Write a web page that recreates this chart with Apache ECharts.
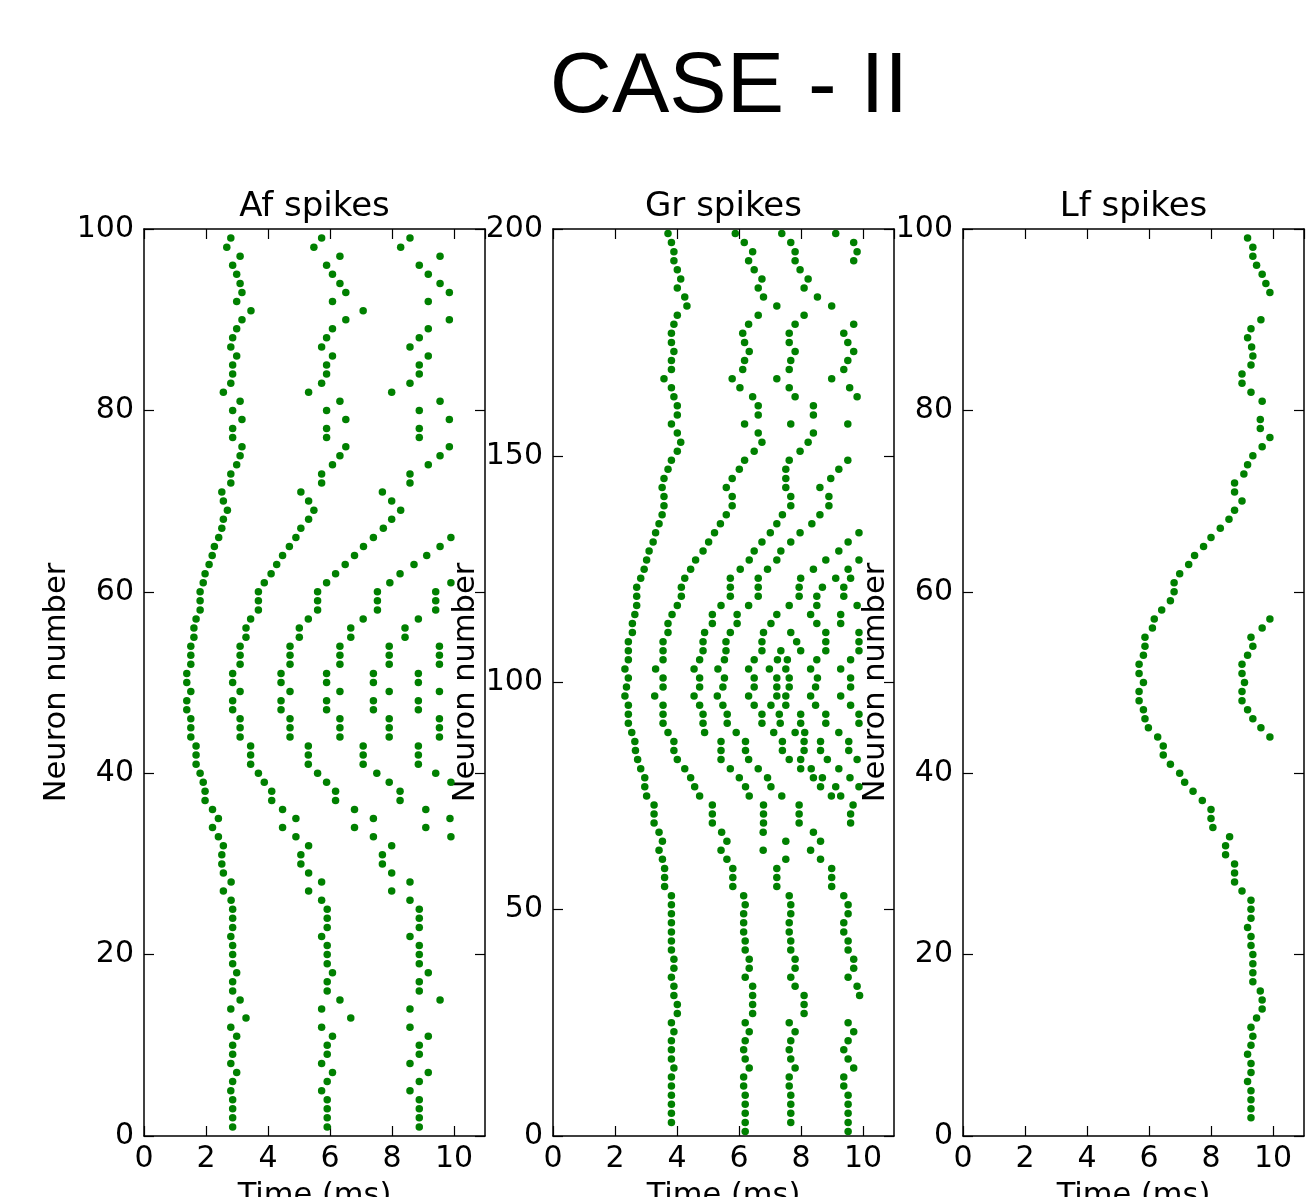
<!DOCTYPE html>
<html>
<head>
<meta charset="utf-8">
<script src="https://cdn.jsdelivr.net/npm/echarts@6/dist/echarts.min.js"></script>
<style>
html,body{margin:0;padding:0;background:#fff;}
#chart{width:1306px;height:1197px;}
</style>
</head>
<body>
<div id="chart"></div>
<script>
// ---------------- DATA ----------------
var mainTitle = 'CASE - II';
var panelTitles = ['Af spikes', 'Gr spikes', 'Lf spikes'];
var xTicks = [0, 2, 4, 6, 8, 10];
var yMaxes = [100, 200, 100];
var yIntervals = [20, 50, 20];

// Af: spike k of neuron n (index n-1), neurons 1..99
var afSpike1 = [2.86,2.86,2.86,2.86,2.80,2.86,2.99,2.80,2.86,2.86,
 2.99,2.80,3.29,2.80,3.10,2.86,2.86,2.99,2.86,2.86,
 2.86,2.80,2.86,2.86,2.86,2.81,2.56,2.81,2.56,2.51,
 2.51,2.56,2.40,2.21,2.40,2.21,1.97,1.97,1.91,1.81,
 1.68,1.68,1.68,1.51,1.51,1.51,1.38,1.38,1.51,1.38,
 1.38,1.51,1.51,1.51,1.61,1.61,1.68,1.81,1.81,1.81,
 1.91,1.97,2.10,2.20,2.27,2.41,2.51,2.56,2.69,2.56,
 2.51,2.80,2.80,2.99,3.10,3.16,2.86,2.86,3.16,2.86,
 3.10,2.56,2.80,2.86,2.86,2.99,2.80,2.86,2.99,3.16,
 3.45,2.99,3.16,3.10,2.99,2.86,3.10,2.67,2.80];
var afSpike2 = [5.91,5.91,5.91,5.91,5.73,5.91,6.08,5.73,5.91,5.91,
 6.08,5.73,6.67,5.73,6.32,5.91,5.91,6.08,5.91,5.91,
 5.91,5.73,5.91,5.91,5.91,5.73,5.31,5.73,5.31,5.06,
 5.06,5.31,4.90,4.47,4.90,4.47,4.12,4.12,3.88,3.69,
 3.44,3.44,3.44,3.10,3.10,3.10,2.86,2.86,3.10,2.86,
 2.86,3.10,3.10,3.10,3.29,3.29,3.44,3.69,3.69,3.69,
 3.88,4.10,4.28,4.47,4.69,4.90,5.06,5.31,5.48,5.31,
 5.06,5.73,5.73,6.08,6.32,6.51,5.89,5.89,6.51,5.89,
 6.32,5.31,5.73,5.89,5.89,6.08,5.73,5.89,6.08,6.51,
 7.07,6.08,6.51,6.32,6.08,5.89,6.32,5.48,5.73];
var afSpike3 = [8.88,8.88,8.88,8.88,8.58,8.88,9.17,8.58,8.88,8.88,
 9.17,8.58,null,8.58,9.55,8.88,8.88,9.17,8.88,8.88,
 8.88,8.58,8.88,8.88,8.88,8.58,7.99,8.58,7.99,7.69,
 7.69,7.99,7.40,6.79,7.40,6.79,6.18,6.18,5.89,5.60,
 5.30,5.30,5.30,4.71,4.71,4.71,4.42,4.42,4.71,4.42,
 4.42,4.71,4.71,4.71,5.01,5.01,5.30,5.60,5.60,5.60,
 5.89,6.18,6.49,6.79,7.08,7.40,7.72,7.99,8.28,7.99,
 7.69,8.58,8.58,9.17,9.55,9.85,8.88,8.88,9.85,8.88,
 9.55,7.99,8.58,8.88,8.88,9.17,8.58,8.88,9.17,9.85,
 null,9.17,9.85,9.55,9.17,8.88,9.55,8.28,8.58];
// later spikes, first neuron given separately
var afSpike4From = 33;
var afSpike4 = [9.90,9.09,9.87,9.09,8.26,8.26,7.91,7.51,7.07,7.07,7.07,6.32,6.32,6.32,5.89,5.89,6.32,5.89,5.89,6.32,6.32,6.32,6.67,6.67,7.07,7.53,7.53,7.53,7.93,8.26,8.71,9.12,9.55,9.90];
var afSpike5From = 39;
var afSpike5 = [9.90,9.41,8.85,8.85,8.85,7.91,7.91,7.91,7.40,7.40,7.91,7.40,7.40,7.91,7.91,7.91,8.42,8.42,8.85,9.41,9.41,9.41,9.90];
var afSpike6From = 44;
var afSpike6 = [9.53,9.53,9.53,8.85,8.85,9.53,8.85,8.85,9.53,9.53,9.53];

// Gr: spike times of neuron 2i+1 (i = row index), neurons 1..199
var grRows = [
 [6.20,9.52],
 [3.82,6.20,7.67,9.52],[3.82,6.20,7.67,9.52],[3.82,6.20,7.67,9.52],[3.82,6.20,7.67,9.52],
 [3.82,6.15,7.62,9.38],[3.82,6.15,7.62,9.38],[3.90,6.33,7.81,9.70],[3.82,6.20,7.67,9.52],
 [3.82,6.15,7.62,9.38],[3.82,6.20,7.67,9.52],[3.90,6.33,7.81,9.70],[3.82,6.20,7.62,9.52],
 [4.01,6.44,8.10],[4.01,6.44,8.10],[3.90,6.44,8.10,9.89],[3.90,6.44,7.81,9.81],
 [3.82,6.20,7.67,9.52],[3.90,6.33,7.81,9.70],[3.90,6.33,7.81,9.70],[3.82,6.20,7.67,9.52],
 [3.82,6.20,7.67,9.52],[3.82,6.15,7.62,9.38],[3.82,6.15,7.62,9.38],[3.82,6.15,7.67,9.52],
 [3.82,6.20,7.67,9.52],[3.82,6.15,7.62,9.38],[3.60,5.80,7.22,8.99],[3.60,5.80,7.22,8.99],
 [3.60,5.80,7.22,8.99],[3.53,5.61,7.51,8.63],[3.42,5.42,6.78,8.31],[3.53,5.61,7.51,8.63],
 [3.42,5.44,6.78,8.40],
 [3.26,5.14,6.79,7.94,9.60],[3.26,5.14,6.79,7.94,9.60],[3.26,5.14,6.79,7.94,9.68],
 [3.02,4.73,6.33,7.38,8.98,9.28],
 [2.96,4.57,6.21,7.03,8.63,9.12,9.87],
 [2.96,4.44,6.01,6.92,8.40,8.69,9.58],
 [2.83,4.25,5.72,6.62,7.99,8.33,9.22],
 [2.73,4.01,5.42,6.31,7.62,7.99,8.85,9.81],
 [2.66,3.90,5.42,6.21,7.40,8.10,8.63,9.54],
 [2.64,3.90,5.42,6.21,7.40,8.10,8.63,9.54],
 [2.54,3.71,4.89,5.91,7.12,7.81,8.12,9.22],
 [2.43,3.55,4.84,5.62,6.74,7.33,7.99,8.80,9.87],
 [2.43,3.55,4.84,5.62,6.74,7.30,7.99,8.80,9.87],
 [2.43,3.55,4.73,5.48,6.49,7.03,7.51,8.47,9.60],
 [2.32,3.28,4.55,5.30,6.31,7.22,7.51,8.31,9.28],
 [2.37,3.55,4.73,5.48,6.49,7.22,7.62,8.47,9.60],
 [2.43,3.55,4.73,5.53,6.49,7.22,7.62,8.53,9.60],
 [2.32,3.31,4.55,5.32,6.31,6.98,7.51,8.31,9.28],
 [2.43,3.55,4.73,5.53,6.49,7.24,7.56,8.51,9.60],
 [2.43,3.55,4.84,5.58,6.74,7.35,7.99,8.80,9.87],
 [2.43,3.55,4.84,5.58,6.74,7.86,8.80,9.87],
 [2.56,3.71,4.89,5.72,6.79,7.67,8.80,9.87],
 [2.56,3.71,5.14,5.94,7.03,8.51,9.28],
 [2.64,3.84,5.14,5.94,7.22,8.31,9.28],
 [2.70,4.01,5.42,6.31,7.62,8.51,9.81],
 [2.70,4.14,5.72,6.62,7.94,8.51,9.38],
 [2.70,4.14,5.72,6.62,7.94,8.69,9.38],
 [2.83,4.25,5.72,6.62,7.99,9.12,9.60],
 [2.94,4.44,6.04,6.92,8.40,9.52],
 [3.02,4.60,6.33,7.22,8.80,9.87],
 [3.10,4.84,6.49,7.35,9.22],
 [3.23,5.02,6.74,7.67,9.52],
 [3.31,5.21,7.01,7.97,9.87],
 [3.42,5.40,7.22,8.35],[3.52,5.59,7.40,8.61],[3.58,5.78,7.67,8.90],[3.58,5.78,7.67,8.90],
 [3.52,5.59,7.51,8.61],[3.58,5.78,7.51,8.96],[3.71,6.01,7.51,9.22],[3.82,6.18,7.62,9.51],
 [4.01,6.49,7.97],[4.12,6.74,8.23],[4.01,6.62,8.40],[3.82,6.18,7.67,9.51],
 [4.01,6.62,8.40],[4.01,6.62,8.40],[3.90,6.44,7.81,9.81],[3.82,6.03,7.62,9.57],
 [3.58,5.78,7.22,8.99],[3.82,6.12,7.62,9.38],[3.82,6.18,7.67,9.51],[3.90,6.33,7.81,9.70],
 [3.82,6.18,7.62,9.51],[3.82,6.12,7.62,9.38],[3.90,6.31,7.81,9.70],[4.01,6.62,8.10],
 [4.32,7.22,8.99],[4.25,6.79,8.53],[4.01,6.62,8.10],[4.12,6.74,8.23],
 [4.01,6.49,7.97],[3.90,6.31,7.81,9.70],[3.90,6.44,7.81,9.81],[3.82,6.17,7.67,9.70],
 [3.71,5.88,7.38,9.12]
];

// Lf: spike k of neuron n (index n-1), neurons 1..99
var lfSpike1 = [null,9.29,9.29,9.29,9.29,9.18,9.29,9.29,9.18,9.29,
 9.35,9.29,9.47,9.65,9.65,9.59,9.35,9.35,9.35,9.35,
 9.29,9.29,9.18,9.29,9.29,9.29,9.00,8.76,8.76,8.76,
 8.47,8.47,8.60,8.06,8.00,8.00,7.72,7.42,7.15,6.99,
 6.69,6.46,6.46,6.28,5.98,5.87,5.82,5.68,5.68,5.82,
 5.68,5.68,5.82,5.87,5.87,6.11,6.17,6.41,6.69,6.81,
 6.81,6.99,7.28,7.47,7.76,8.00,8.30,8.58,8.76,9.00,
 8.76,8.76,9.06,9.18,9.35,9.65,9.90,9.59,9.59,null,
 9.65,9.29,9.00,9.00,9.29,9.35,9.31,9.18,9.29,9.61,
 null,null,9.90,9.77,9.65,9.47,9.35,9.35,9.18];
var lfSpike2From = 44;
var lfSpike2 = [9.90,9.61,9.35,9.18,9.00,9.00,9.08,9.00,9.00,9.18,9.35,9.29,9.65,9.90];

// ---------------- BUILD ----------------
function pointsFrom(arr, firstNeuron) {
  var out = [];
  for (var i = 0; i < arr.length; i++) {
    if (arr[i] !== null) out.push([arr[i], firstNeuron + i]);
  }
  return out;
}
var afData = [].concat(
  pointsFrom(afSpike1, 1), pointsFrom(afSpike2, 1), pointsFrom(afSpike3, 1),
  pointsFrom(afSpike4, afSpike4From), pointsFrom(afSpike5, afSpike5From), pointsFrom(afSpike6, afSpike6From));
var grData = [];
grRows.forEach(function (row, i) {
  row.forEach(function (t) { grData.push([t, 2 * i + 1]); });
});
var lfData = [].concat(pointsFrom(lfSpike1, 1), pointsFrom(lfSpike2, lfSpike2From));
var panelData = [afData, grData, lfData];

var FONT = 'DejaVu Sans';
var gridLefts = [144, 553, 963];
var grids = [], xAxes = [], yAxes = [], series = [], graphics = [];
var lineStyle = { color: '#000', width: 1.5 };
var tickStyle = { color: '#000', width: 1.2 };

for (var g = 0; g < 3; g++) {
  grids.push({ left: gridLefts[g], top: 229, width: 341, height: 907, show: false,
    containLabel: false, outerBoundsMode: 'none' });
  // bottom x
  xAxes.push({
    gridIndex: g, type: 'value', position: 'bottom', min: 0, max: 11, interval: 2,
    axisLine: { show: true, onZero: false, lineStyle: lineStyle },
    axisTick: { show: true, inside: true, length: 10, lineStyle: tickStyle },
    axisLabel: { show: true, color: '#000', fontSize: 30, fontFamily: FONT, margin: 8, showMaxLabel: false },
    splitLine: { show: false },
    name: 'Time (ms)', nameLocation: 'middle', nameGap: 45,
    nameTextStyle: { color: '#000', fontSize: 30.5, fontFamily: FONT }
  });
  // top x
  xAxes.push({
    gridIndex: g, type: 'value', position: 'top', min: 0, max: 11, interval: 2,
    axisLine: { show: true, onZero: false, lineStyle: lineStyle },
    axisTick: { show: true, inside: true, length: 10, lineStyle: tickStyle },
    axisLabel: { show: false }, splitLine: { show: false }
  });
  // left y
  yAxes.push({
    gridIndex: g, type: 'value', position: 'left', min: 0, max: yMaxes[g], interval: yIntervals[g],
    axisLine: { show: true, onZero: false, lineStyle: lineStyle },
    axisTick: { show: true, inside: true, length: 10, lineStyle: tickStyle },
    axisLabel: { show: true, color: '#000', fontSize: 30, fontFamily: FONT, margin: 10 },
    splitLine: { show: false },
    name: 'Neuron number', nameLocation: 'middle', nameGap: 69, nameRotate: 90,
    nameTextStyle: { color: '#000', fontSize: 30.5, fontFamily: FONT }
  });
  // right y
  yAxes.push({
    gridIndex: g, type: 'value', position: 'right', min: 0, max: yMaxes[g], interval: yIntervals[g],
    axisLine: { show: true, onZero: false, lineStyle: lineStyle },
    axisTick: { show: true, inside: true, length: 10, lineStyle: tickStyle },
    axisLabel: { show: false }, splitLine: { show: false }
  });
  series.push({
    type: 'scatter', xAxisIndex: 2 * g, yAxisIndex: 2 * g,
    data: panelData[g], symbol: 'circle', symbolSize: 7.5,
    itemStyle: { color: '#008000', opacity: 1 },
    silent: true, animation: false
  });
  graphics.push({
    type: 'text', x: gridLefts[g] + 170.5, y: 207,
    style: { text: panelTitles[g], font: '34px "' + FONT + '"', fill: '#000',
      textAlign: 'center', textVerticalAlign: 'middle', align: 'center', verticalAlign: 'middle' }
  });
}
graphics.push({
  type: 'text', x: 729, y: 88,
  style: { text: mainTitle, font: '86px "Liberation Sans", Arial, sans-serif', fill: '#000',
    textAlign: 'center', textVerticalAlign: 'middle', align: 'center', verticalAlign: 'middle' }
});

var chart = echarts.init(document.getElementById('chart'), null, { renderer: 'canvas' });
chart.setOption({
  backgroundColor: '#fff',
  animation: false,
  grid: grids,
  xAxis: xAxes,
  yAxis: yAxes,
  series: series,
  graphic: graphics
});
</script>
</body>
</html>
